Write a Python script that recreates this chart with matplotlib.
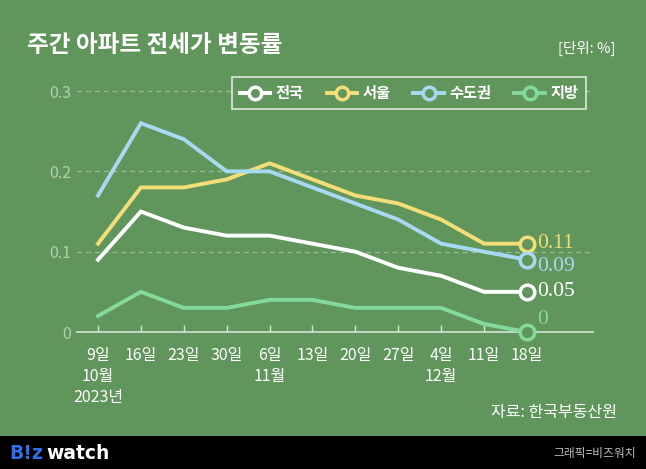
import matplotlib
matplotlib.use("Agg")
import matplotlib.pyplot as plt
from matplotlib.lines import Line2D
from matplotlib.patches import Rectangle

plt.rcParams['font.family'] = ['Noto Sans CJK KR', 'DejaVu Sans']

# ---- data ----
x_labels = ["9일\n10월\n2023년", "16일", "23일", "30일", "6일\n11월", "13일",
            "20일", "27일", "4일\n12월", "11일", "18일"]
series_names = ["전국", "서울", "수도권", "지방"]
nationwide = [0.09, 0.15, 0.13, 0.12, 0.12, 0.11, 0.10, 0.08, 0.07, 0.05, 0.05]
seoul = [0.11, 0.18, 0.18, 0.19, 0.21, 0.19, 0.17, 0.16, 0.14, 0.11, 0.11]
capital = [0.17, 0.26, 0.24, 0.20, 0.20, 0.18, 0.16, 0.14, 0.11, 0.10, 0.09]
regional = [0.02, 0.05, 0.03, 0.03, 0.04, 0.04, 0.03, 0.03, 0.03, 0.01, 0.00]
end_labels = ["0.05", "0.11", "0.09", "0"]
y_ticks = [0, 0.1, 0.2, 0.3]
y_tick_labels = ["0", "0.1", "0.2", "0.3"]

BG = "#60955c"
colors = ["#ffffff", "#f4de78", "#a8d9f2", "#84d99c"]
label_offsets = [0, 0, -5, 9]  # vertical offsets (points) for end labels

fig = plt.figure(figsize=(6.46, 4.69), dpi=100, facecolor=BG)
ax = fig.add_axes([77/646, (469-332)/469, 516/646, (332-75)/469])
ax.set_facecolor(BG)

xs = list(range(len(x_labels)))
all_series = [nationwide, seoul, capital, regional]
draw_order = [3, 0, 2, 1]
for i in draw_order:
    vals = all_series[i]
    ax.plot(xs, vals, color=colors[i], lw=2.8, solid_joinstyle='miter',
            clip_on=False, zorder=3 + i)
    ax.plot(xs[-1], vals[-1], marker='o', ms=10.5, mfc=BG, mec=colors[i],
            mew=2.5, clip_on=False, zorder=10 + i)
    ax.annotate(end_labels[i], (xs[-1], vals[-1]), xytext=(7, label_offsets[i]),
                textcoords='offset points', ha='left', va='center',
                color=colors[i], fontsize=15.5, family='Liberation Serif',
                annotation_clip=False)

ax.set_xlim(-0.49, 11.54)
ax.set_ylim(0, 0.32)
ax.set_yticks(y_ticks)
ax.set_yticklabels(y_tick_labels)
ax.set_xticks(xs)
ax.set_xticklabels(x_labels, linespacing=1.3)
for s in ["top", "right", "left"]:
    ax.spines[s].set_visible(False)
ax.spines["bottom"].set_color("#d8e4d6")
ax.spines["bottom"].set_linewidth(1.2)
ax.tick_params(axis='y', length=0, pad=4, labelsize=11.5, labelcolor="#b6cfb2")
ax.tick_params(axis='x', length=5, direction='in', color="#d8e4d6", width=1,
               pad=11, labelsize=11.5, labelcolor="white")
ax.grid(axis='y', color="#9dbc99", ls=(0, (4, 3)), lw=0.9)
ax.set_axisbelow(True)

# legend
handles = [Line2D([0], [0], color=c, lw=2.8, marker='o', ms=9, mfc=BG, mec=c, mew=2.5)
           for c in colors]
leg = fig.legend(handles, series_names, loc='center', bbox_to_anchor=(409/646, 1-93/469),
                 ncol=4, frameon=True, fancybox=False, handlelength=2.0,
                 columnspacing=1.5, handletextpad=0.35, borderpad=0.5,
                 prop={'family': ['Noto Sans CJK KR'], 'weight': 'bold', 'size': 11})
leg.get_frame().set_facecolor(BG)
leg.get_frame().set_edgecolor("white")
leg.get_frame().set_linewidth(1.2)
for t in leg.get_texts():
    t.set_color("white")

# titles & texts
fig.text(27/646, 1-45/469, "주간 아파트 전세가 변동률", color="white", fontsize=17,
         fontweight='bold', va='center', ha='left')
fig.text(615/646, 1-48/469, "[단위: %]", color="white", fontsize=10.5,
         va='center', ha='right')
fig.text(617/646, 1-412/469, "자료: 한국부동산원", color="white", fontsize=11.5,
         va='center', ha='right')

# bottom bar
fig.patches.append(Rectangle((0, 0), 1, 33/469, transform=fig.transFigure,
                             facecolor="black", edgecolor='none', zorder=0))
fig.text(9/646, 1-453/469, "B!z", color="#2f6fe8", fontsize=13.5, fontweight='bold',
         family='DejaVu Sans', va='center', ha='left')
fig.text(46/646, 1-453/469, "watch", color="white", fontsize=13.5, fontweight='bold',
         family='DejaVu Sans', va='center', ha='left')
fig.text(636/646, 1-453/469, "그래픽=비즈워치", color="#bdbdbd", fontsize=8.5,
         va='center', ha='right')

fig.savefig("out.png", dpi=100, facecolor=BG)
